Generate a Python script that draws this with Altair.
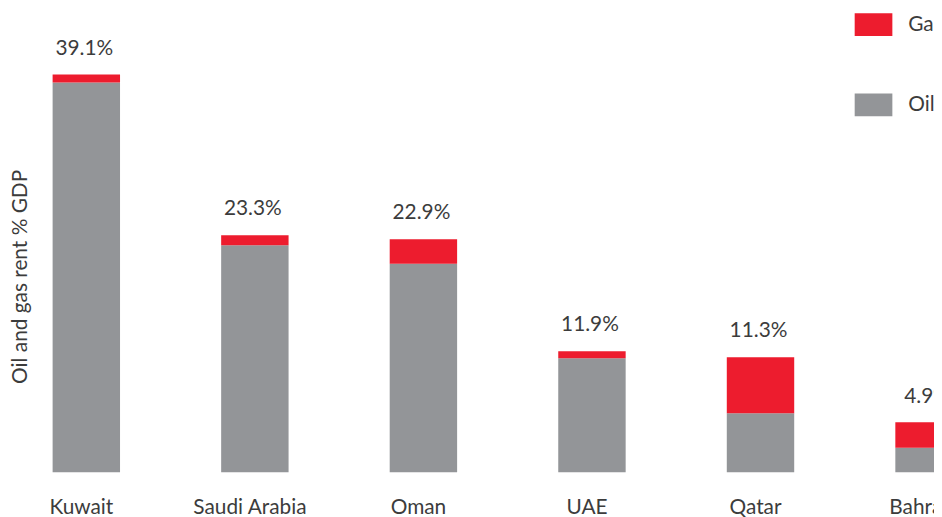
import altair as alt
import pandas as pd

countries = ["Kuwait", "Saudi Arabia", "Oman", "UAE", "Qatar", "Bahrain"]
oil = [38.3, 22.3, 20.5, 11.2, 5.8, 2.4]
gas = [0.8, 1.0, 2.4, 0.7, 5.5, 2.5]
totals = [39.1, 23.3, 22.9, 11.9, 11.3, 4.9]
total_labels = ["39.1%", "23.3%", "22.9%", "11.9%", "11.3%", "4.9%"]
series = ["Gas", "Oil"]
series_colors = ["#ED1C2E", "#939598"]

rows = []
for c, o, g in zip(countries, oil, gas):
    rows.append({"country": c, "type": "Oil", "value": o, "ord": 0})
    rows.append({"country": c, "type": "Gas", "value": g, "ord": 1})
df = pd.DataFrame(rows)
tot = pd.DataFrame({"country": countries, "total": totals, "label": total_labels})

FONT = "Lato"
TXT = "#3c3c3c"
FW = 400

x_scale = alt.Scale(domain=countries, range=[-36, 984], paddingInner=0.6, paddingOuter=0.3)
y_scale = alt.Scale(domain=[0, 45.42], nice=False, zero=True)

bars = alt.Chart(df).mark_bar().encode(
    x=alt.X("country:N", scale=x_scale, sort=countries,
            axis=alt.Axis(title=None, labelAngle=0, ticks=False, tickSize=0, domain=False,
                          labelPadding=25, labelFontSize=21, labelFont=FONT, labelColor=TXT,
                          labelFontWeight=FW, labelBaseline="top", labelOffset=-5)),
    y=alt.Y("value:Q", stack="zero", scale=y_scale,
            axis=alt.Axis(title="Oil and gas rent % GDP", labels=False, ticks=False, domain=False,
                          grid=False, titleFont=FONT, titleFontSize=21, titleFontWeight=FW,
                          titleColor=TXT, titleX=-17, titleY=268.5, titleAngle=-90,
                          titleAlign="center", titleBaseline="middle")),
    color=alt.Color("type:N", scale=alt.Scale(domain=series, range=series_colors),
                    legend=alt.Legend(title=None, orient="none", legendX=824, legendY=-4.5,
                                      symbolType="M-1,-0.605H1V0.605H-1Z", symbolSize=1444,
                                      symbolStrokeWidth=0, labelFont=FONT, labelFontSize=21,
                                      labelFontWeight=FW, labelColor=TXT, labelOffset=16,
                                      rowPadding=50, padding=0)),
    order=alt.Order("ord:Q"),
)

labels = alt.Chart(tot).mark_text(baseline="alphabetic", dy=-20, dx=-2, font=FONT, fontSize=21,
                                  fontWeight=FW, color=TXT).encode(
    x=alt.X("country:N", scale=x_scale, sort=countries),
    y=alt.Y("total:Q", scale=y_scale),
    text="label:N",
)

chart = (bars + labels).properties(
    width=904, height=466,
    autosize=alt.AutoSizeParams(type="none"),
    padding={"left": 30, "top": 0, "right": 0, "bottom": 43},
).configure(background="white").configure_view(stroke=None)

chart.save("out.html", embed_options={"renderer": "svg", "actions": False})
